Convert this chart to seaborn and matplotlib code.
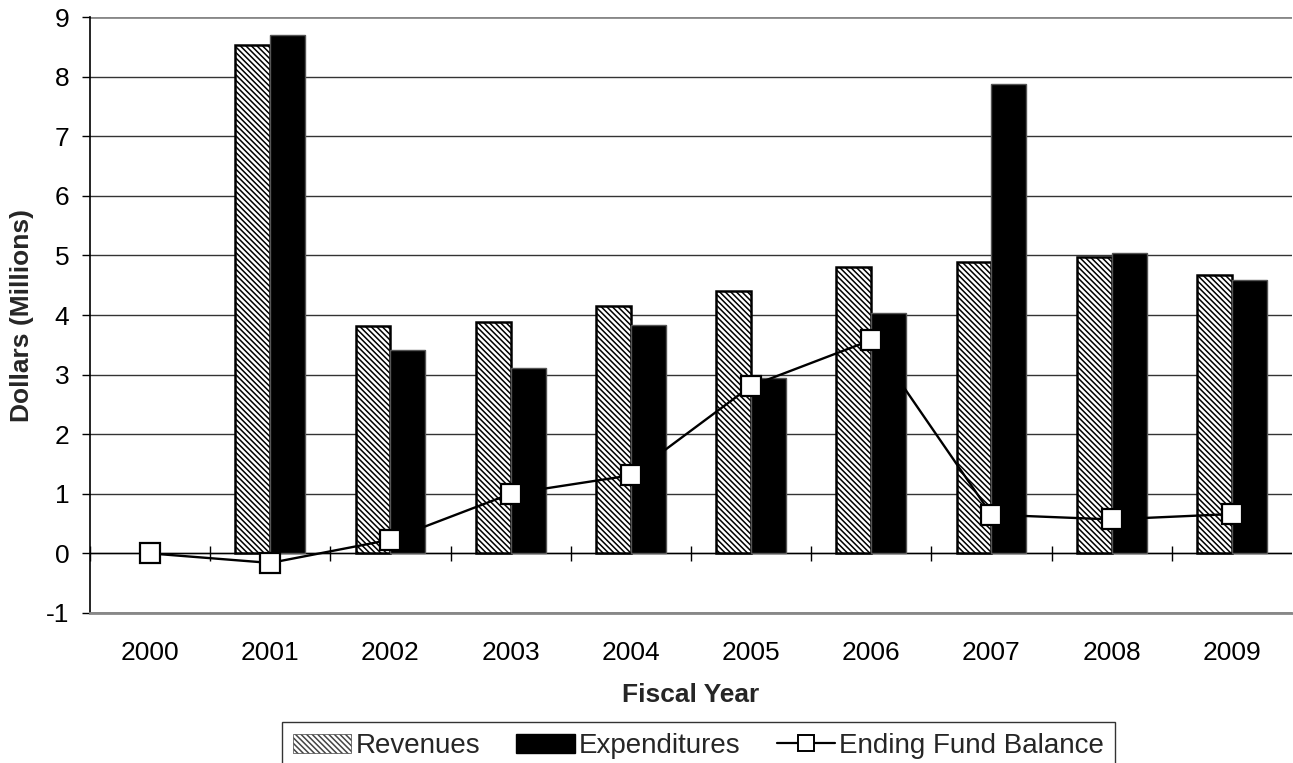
# Revenues / expenditures / fund balance combo chart
import numpy as np
import pandas as pd
import matplotlib
matplotlib.use("Agg")
import matplotlib.pyplot as plt
import seaborn as sns
from matplotlib.patches import Patch
from matplotlib.lines import Line2D

# Data (millions of dollars)
years = ['2000', '2001', '2002', '2003', '2004', '2005', '2006', '2007', '2008', '2009']
revenues = [np.nan, 8.53, 3.81, 3.88, 4.15, 4.41, 4.81, 4.89, 4.97, 4.67]
expenditures = [np.nan, 8.70, 3.42, 3.11, 3.84, 2.95, 4.03, 7.88, 5.04, 4.59]
fund_balance = [0.0, -0.16, 0.23, 1.00, 1.31, 2.81, 3.58, 0.65, 0.57, 0.66]
y_ticks = [-1, 0, 1, 2, 3, 4, 5, 6, 7, 8, 9]

# long format for seaborn
bars = pd.DataFrame({
    'Year': years * 2,
    'Value': revenues + expenditures,
    'Series': ['Revenues'] * len(years) + ['Expenditures'] * len(years),
})

sns.set_style("white")
plt.rcParams['font.family'] = ['Liberation Sans', 'DejaVu Sans']
plt.rcParams['axes.unicode_minus'] = False
plt.rcParams['hatch.linewidth'] = 1.1
plt.rcParams['hatch.color'] = 'black'

FS = 19

fig = plt.figure(figsize=(12.93, 7.63), dpi=100)
ax = fig.add_axes([0.0696, 0.1966, 0.9296, 0.7811])

# horizontal gridlines behind everything
for v in y_ticks:
    edge = v in (9, -1)
    ax.axhline(v, color='#888888' if edge else '#333333', lw=2 if edge else 1, zorder=0)

sns.barplot(data=bars, x='Year', y='Value', hue='Series', order=years,
            hue_order=['Revenues', 'Expenditures'],
            palette={'Revenues': 'white', 'Expenditures': 'black'},
            width=0.58, gap=0, errorbar=None, legend=False, ax=ax, zorder=2)

rev_bars, exp_bars = ax.containers[0], ax.containers[1]
for p in rev_bars:
    p.set_hatch('\\\\\\\\\\\\')
    p.set_edgecolor('black')
    p.set_linewidth(1.8)
for p in exp_bars:
    p.set_edgecolor('#555555')
    p.set_linewidth(1)

# ending fund balance line
sns.lineplot(x=np.arange(len(years)), y=fund_balance, color='black', lw=1.7,
             marker='s', markersize=14, markerfacecolor='white',
             markeredgecolor='black', markeredgewidth=1.6, ax=ax, zorder=4)

# x axis drawn at zero with boundary tick marks
ax.axhline(0, color='black', lw=1, zorder=1)
ax.vlines(np.arange(len(years)) - 0.5, -0.13, 0.13, color='black', lw=1, zorder=1)

ax.set_xlim(-0.5, len(years) - 0.5)
ax.set_ylim(-1, 9)
ax.set_yticks(y_ticks)
ax.set_xticks(np.arange(len(years)))
ax.set_xticklabels(years)

for side in ['top', 'right']:
    ax.spines[side].set_visible(False)
ax.spines['left'].set_color('black')
ax.spines['left'].set_linewidth(1.2)
ax.spines['bottom'].set_color('#888888')
ax.spines['bottom'].set_linewidth(2)

ax.tick_params(axis='y', length=6, width=1, color='black', direction='out',
               left=True, pad=9, labelsize=FS, labelcolor='black')
ax.tick_params(axis='x', length=0, pad=20, labelsize=FS, labelcolor='black')

ax.set_xlabel("Fiscal Year", fontsize=FS, fontweight='bold')
ax.set_ylabel("Dollars (Millions)", fontsize=FS, fontweight='bold')
ax.xaxis.set_label_coords(0.5, -0.118)
ax.yaxis.set_label_coords(-0.047, 0.5)

# legend below the chart
handles = [
    Patch(facecolor='white', edgecolor='#444444', lw=0.5, hatch='\\\\\\\\\\\\', label='Revenues'),
    Patch(facecolor='black', edgecolor='black', label='Expenditures'),
    Line2D([0], [0], color='black', lw=1.6, marker='s', markersize=11,
           markerfacecolor='white', markeredgecolor='black', markeredgewidth=1.4,
           label='Ending Fund Balance'),
]
leg = fig.legend(handles=handles, loc='upper left', bbox_to_anchor=(282 / 1293, 1 - 722 / 763),
                 ncol=3, fontsize=20, frameon=True, fancybox=False,
                 handlelength=2.1, handleheight=0.7, handletextpad=0.15,
                 columnspacing=1.3, borderpad=0.4, borderaxespad=0)
leg.get_frame().set_edgecolor('black')
leg.get_frame().set_linewidth(1)

plt.savefig("out.png", dpi=100)
